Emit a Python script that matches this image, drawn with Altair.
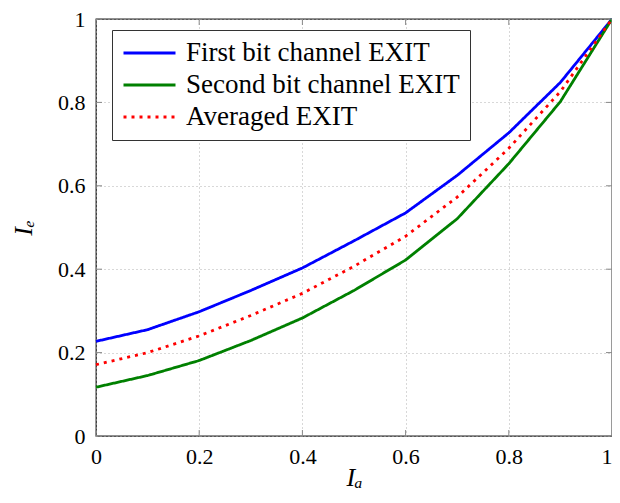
import altair as alt
import pandas as pd

# ---- data ----
Ia = [0.0, 0.1, 0.2, 0.3, 0.4, 0.5, 0.6, 0.7, 0.8, 0.9, 1.0]
first_bit = [0.227, 0.255, 0.298, 0.349, 0.403, 0.468, 0.535, 0.625, 0.727, 0.848, 1.0]
second_bit = [0.117, 0.145, 0.181, 0.229, 0.283, 0.349, 0.422, 0.521, 0.653, 0.802, 1.0]
averaged = [0.171, 0.200, 0.240, 0.289, 0.342, 0.407, 0.479, 0.573, 0.690, 0.826, 1.0]
series_names = ["First bit channel EXIT", "Second bit channel EXIT", "Averaged EXIT"]
series_colors = ["#0000ff", "#008000", "#ff0000"]
series_dash = [[1, 0], [1, 0], [3, 5]]
tick_values = [0.0, 0.2, 0.4, 0.6, 0.8, 1.0]

rows = []
for name, vals in zip(series_names, [first_bit, second_bit, averaged]):
    for x, y in zip(Ia, vals):
        rows.append({"Ia": x, "Ie": y, "series": name})
df = pd.DataFrame(rows)
ticks_df = pd.DataFrame({"Ia": tick_values, "Ie": tick_values})

W, H = 516, 417
FONT = "Liberation Serif"

xscale = alt.Scale(domain=[0, 1], nice=False, zero=False)
yscale = alt.Scale(domain=[0, 1], nice=False, zero=False)
axis_style = dict(
    grid=True, ticks=False, domain=False,
    labelFont=FONT, labelFontSize=22, labelColor="black",
    titleFont=FONT, titleFontSize=26, titleFontStyle="italic",
    titleFontWeight="normal", titleColor="black",
    gridColor="#b0b0b0", gridDash=[1, 3], gridWidth=1,
)
xaxis = alt.Axis(values=tick_values, format="~g", title="Iₐ",
                 labelPadding=10, labelFlush=False,
                 labelAlign=alt.expr("datum.value >= 1 ? 'right' : 'center'"),
                 titleBaseline="alphabetic", titleY=49, **axis_style)
yaxis = alt.Axis(values=tick_values, format="~g", title="Iₑ",
                 labelPadding=11, titlePadding=21, **axis_style)

lines = alt.Chart(df).mark_line(strokeWidth=2.8, strokeCap="butt").encode(
    x=alt.X("Ia:Q", scale=xscale, axis=xaxis),
    y=alt.Y("Ie:Q", scale=yscale, axis=yaxis),
    color=alt.Color("series:N",
                    scale=alt.Scale(domain=series_names, range=series_colors),
                    sort=series_names,
                    legend=alt.Legend(title=None, orient="none", legendX=16, legendY=11,
                                      symbolType="stroke", symbolSize=2704,
                                      symbolStrokeWidth=3, labelFont=FONT,
                                      labelFontSize=27, labelColor="black",
                                      labelOffset=9, padding=10, rowPadding=5,
                                      clipHeight=26,
                                      strokeColor="#333333", fillColor="white",
                                      cornerRadius=0, labelLimit=400)),
    strokeDash=alt.StrokeDash("series:N",
                              scale=alt.Scale(domain=series_names, range=series_dash),
                              sort=series_names, legend=None),
    order=alt.Order("Ia:Q"),
)

tick_color = "#888888"
xt_bottom = alt.Chart(ticks_df).mark_rule(color=tick_color, strokeWidth=1).encode(
    x=alt.X("Ia:Q", scale=xscale, axis=xaxis), y=alt.value(H), y2=alt.value(H - 6))
xt_top = alt.Chart(ticks_df).mark_rule(color=tick_color, strokeWidth=1).encode(
    x=alt.X("Ia:Q", scale=xscale, axis=xaxis), y=alt.value(0), y2=alt.value(6))
yt_left = alt.Chart(ticks_df).mark_rule(color=tick_color, strokeWidth=1).encode(
    y=alt.Y("Ie:Q", scale=yscale, axis=yaxis), x=alt.value(0), x2=alt.value(6))
yt_right = alt.Chart(ticks_df).mark_rule(color=tick_color, strokeWidth=1).encode(
    y=alt.Y("Ie:Q", scale=yscale, axis=yaxis), x=alt.value(W), x2=alt.value(W - 6))

chart = alt.layer(lines, xt_bottom, xt_top, yt_left, yt_right).properties(
    width=W, height=H,
    autosize=alt.AutoSizeParams(type="none"),
    padding={"left": 88, "top": 11, "right": 0, "bottom": 54},
    background="white",
).configure_view(
    stroke="#222222", strokeWidth=1.3
)

chart.save("out.html", embed_options={"renderer": "svg", "actions": False})
